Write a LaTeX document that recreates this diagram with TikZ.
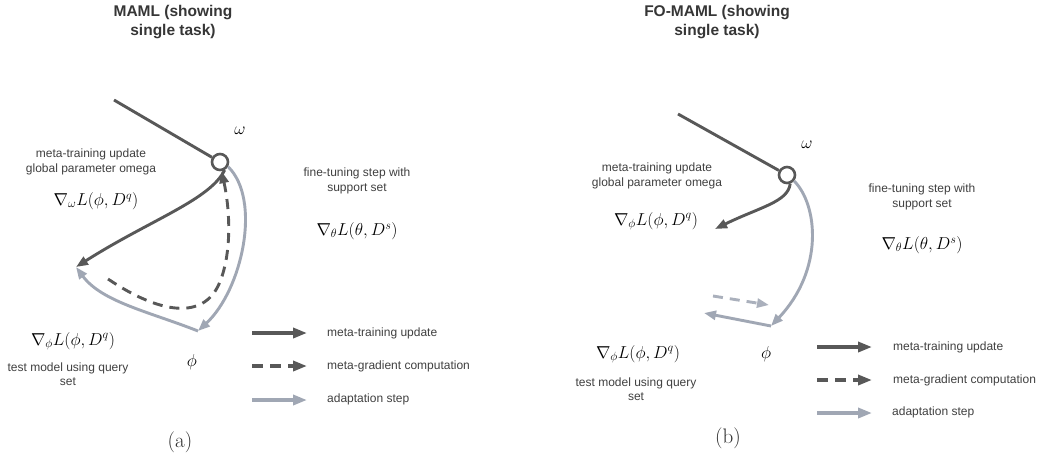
\documentclass[tikz,border=0pt]{standalone}
\usepackage{fontspec}
\newfontfamily\lab{Liberation Sans}
\usetikzlibrary{arrows.meta}
\definecolor{darkc}{RGB}{88,88,88}
\definecolor{lightc}{RGB}{160,167,180}
\definecolor{lightd}{RGB}{170,176,188}
\definecolor{txt}{RGB}{64,64,64}
\begin{document}
\begin{tikzpicture}[x=1pt,y=-1pt,
  lbl/.style={font=\lab\fontsize{12}{14.5}\selectfont,text=txt,align=center,inner sep=0pt},
  ttl/.style={font=\lab\bfseries\fontsize{15.5}{19}\selectfont,text=txt!85!black,align=center,inner sep=0pt},
  mth/.style={font=\fontsize{17.5}{20}\selectfont,text=black,inner sep=0pt},
  captxt/.style={font=\fontsize{21}{24}\selectfont,text=txt!70!black,inner sep=0pt},
  leg/.style={font=\lab\fontsize{12}{14.5}\selectfont,text=txt,anchor=west,inner sep=0pt},
  tipsty/.style={-{Triangle[length=12pt,width=9pt]}},
  meta/.style={draw=darkc,line width=2.9pt,tipsty},
  metag/.style={draw=darkc,line width=2.9pt,dash pattern=on 10pt off 7pt,tipsty},
  adapt/.style={draw=lightc,line width=2.9pt,tipsty},
  adaptd/.style={draw=lightd,line width=2.9pt,dash pattern=on 10pt off 7pt,tipsty},
  pline/.style={draw=darkc,line width=2.9pt},
  pcirc/.style={circle,draw=darkc,line width=2.6pt,fill=white,minimum size=16pt,inner sep=0pt},
  legarrow/.style={line width=3.4pt,-{Triangle[length=14pt,width=10pt]}}]
\useasboundingbox[fill=white] (0,0) rectangle (1054,459);

% ---------- (a) MAML ----------
\node[ttl] (ta) at (173,22) {MAML (showing\\single task)};
\coordinate (sa) at (114,100);
\coordinate (qa) at (76,267);
\coordinate (pa) at (198,331);
\coordinate (da) at (108,279);
\node[pcirc] (oa) at (220,162) {};
\draw[pline] (sa) -- (oa);
\node[mth] (wa) at (240,131) {$\omega$};
\node[lbl] (mua) at (91,162) {meta-training update\\global parameter omega};
\node[mth] (gwa) at (96,201) {$\nabla_{\omega}L(\phi,D^{q})$};
\node[lbl] (fta) at (357,181) {fine-tuning step with\\support set};
\node[mth] (gta) at (357,231) {$\nabla_{\theta}L(\theta,D^{s})$};
\node[mth] (gpa) at (73,341) {$\nabla_{\phi}L(\phi,D^{q})$};
\node[lbl] (tma) at (68,374) {test model using query\\set};
\node[mth] (pha) at (192,362) {$\phi$};
\node[captxt] (ca) at (180,442) {(a)};

\draw[meta] (oa.-60) .. controls (210,200) and (150,220) .. (qa);
\draw[adapt] (oa.-30) .. controls (262,200) and (242,290) .. (pa);
\draw[adapt] (pa) .. controls (150,312) and (102,302) .. (qa);
\draw[metag] (da) .. controls (160,314) and (203,320) .. (219,284)
  .. controls (231,257) and (231,215) .. (oa.-80);

% legend (a)
\coordinate (la1) at (252,333); \coordinate (la1e) at (307,333);
\coordinate (la2) at (252,366); \coordinate (la2e) at (307,366);
\coordinate (la3) at (252,400); \coordinate (la3e) at (307,400);
\draw[legarrow,draw=darkc] (la1) -- (la1e);
\draw[legarrow,draw=darkc,dash pattern=on 11pt off 7pt] (la2) -- (la2e);
\draw[legarrow,draw=lightc] (la3) -- (la3e);
\node[leg] (lta1) at (327,333) {meta-training update};
\node[leg] (lta2) at (327,366) {meta-gradient computation};
\node[leg] (lta3) at (327,399) {adaptation step};

% ---------- (b) FO-MAML ----------
\node[ttl] (tb) at (717,22) {FO-MAML (showing\\single task)};
\coordinate (sb) at (678,114);
\coordinate (qb) at (715,229);
\coordinate (pb) at (771,326);
\coordinate (rb) at (704,313);
\coordinate (db) at (713,296);
\coordinate (dbe) at (769,305);
\node[pcirc] (ob) at (787,175) {};
\draw[pline] (sb) -- (ob);
\node[mth] (wb) at (807,145) {$\omega$};
\node[lbl] (mub) at (657,176) {meta-training update\\global parameter omega};
\node[mth] (gwb) at (656,221) {$\nabla_{\phi}L(\phi,D^{q})$};
\node[lbl] (ftb) at (922,197) {fine-tuning step with\\support set};
\node[mth] (gtb) at (922,245) {$\nabla_{\theta}L(\theta,D^{s})$};
\node[mth] (gpb) at (638,354) {$\nabla_{\phi}L(\phi,D^{q})$};
\node[lbl] (tmb) at (636,389) {test model using query\\set};
\node[mth] (phb) at (766,354) {$\phi$};
\node[captxt] (cb) at (728,438) {(b)};

\draw[meta] (ob.-70) .. controls (788,202) and (760,207) .. (qb);
\draw[adapt] (ob.-40) .. controls (818,205) and (824,270) .. (pb);
\draw[adapt] (pb) -- (rb);
\draw[adaptd] (db) -- (dbe);

% legend (b)
\coordinate (lb1) at (817,347); \coordinate (lb1e) at (872,347);
\coordinate (lb2) at (817,380); \coordinate (lb2e) at (872,380);
\coordinate (lb3) at (817,413); \coordinate (lb3e) at (872,413);
\draw[legarrow,draw=darkc] (lb1) -- (lb1e);
\draw[legarrow,draw=darkc,dash pattern=on 11pt off 7pt] (lb2) -- (lb2e);
\draw[legarrow,draw=lightc] (lb3) -- (lb3e);
\node[leg] (ltb1) at (893,347) {meta-training update};
\node[leg] (ltb2) at (893,380) {meta-gradient computation};
\node[leg] (ltb3) at (892,412) {adaptation step};
\end{tikzpicture}
\end{document}
